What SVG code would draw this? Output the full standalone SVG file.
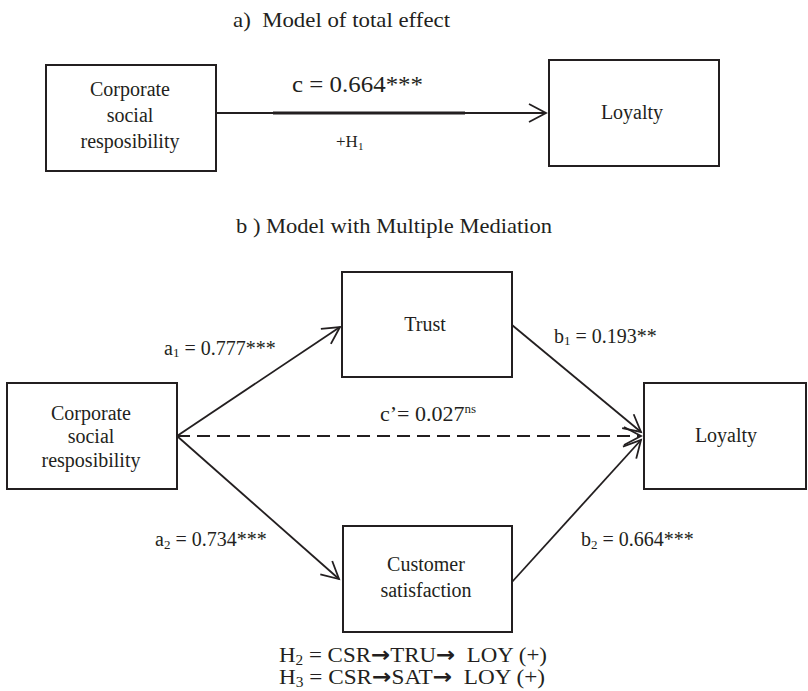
<svg xmlns="http://www.w3.org/2000/svg" width="808" height="691" viewBox="0 0 808 691">
  <style>
    .box { fill: #ffffff; stroke: #231f20; stroke-width: 2; }
    .t { font-family: "Liberation Serif", "Times New Roman", serif; fill: #231f20; }
    .n { font-size: 20px; text-anchor: middle; }
    .lbl { font-size: 20px; }
    .arr { font-family: "DejaVu Sans", sans-serif; font-weight: bold; font-size: 21px; }
    .edge { fill: none; stroke: #231f20; stroke-width: 1.8; }
    .dash { stroke-dasharray: 13 7; }
  </style>
  <defs>
    <marker id="open" markerUnits="userSpaceOnUse" viewBox="-20 -12 24 24" refX="0" refY="0" markerWidth="24" markerHeight="24" orient="auto" overflow="visible">
      <path d="M-17,-9 L0,0 L-17,9" fill="none" stroke="#231f20" stroke-width="1.8"/>
    </marker>
  </defs>

  <rect width="808" height="691" fill="#ffffff"/>

  <!-- Titles -->
  <text class="t" x="233" y="27" font-size="21" textLength="217" lengthAdjust="spacingAndGlyphs" xml:space="preserve">a)  Model of total effect</text>
  <text class="t" x="236" y="233" font-size="21" textLength="316" lengthAdjust="spacingAndGlyphs">b ) Model with Multiple Mediation</text>

  <!-- Connectors -->
  <g id="connectors">
    <line class="edge" x1="216" y1="113" x2="546" y2="113" marker-end="url(#open)"/>
    <line x1="273" y1="113" x2="465" y2="113" stroke="#231f20" stroke-width="3.2"/>
    <line class="edge" x1="177" y1="436" x2="340" y2="327" marker-end="url(#open)"/>
    <line class="edge" x1="512" y1="325" x2="641" y2="432" marker-end="url(#open)"/>
    <line class="edge dash" x1="177" y1="436" x2="641" y2="436" marker-end="url(#open)"/>
    <line class="edge" x1="177" y1="436" x2="339" y2="579" marker-end="url(#open)"/>
    <line class="edge" x1="512" y1="582" x2="641" y2="440" marker-end="url(#open)"/>
  </g>

  <!-- Edge labels -->
  <g id="labels">
    <text class="t" x="292" y="92" font-size="24" textLength="131" lengthAdjust="spacingAndGlyphs">c = 0.664***</text>
    <text class="t" x="336" y="147" font-size="17">+H<tspan font-size="11" dy="3">1</tspan></text>
    <text class="t lbl" x="164" y="355">a<tspan font-size="13" dy="2">1</tspan><tspan dy="-2"> = 0.777***</tspan></text>
    <text class="t lbl" x="554" y="343">b<tspan font-size="13" dy="2">1</tspan><tspan dy="-2"> = 0.193**</tspan></text>
    <text class="t" x="380" y="421" font-size="22">c’= 0.027<tspan font-size="13" dy="-8">ns</tspan></text>
    <text class="t lbl" x="155" y="546">a<tspan font-size="13" dy="3">2</tspan><tspan dy="-3"> = 0.734***</tspan></text>
    <text class="t lbl" x="581" y="546">b<tspan font-size="13" dy="3">2</tspan><tspan dy="-3"> = 0.664***</tspan></text>
    <text class="t" x="279" y="662" font-size="21" textLength="268" lengthAdjust="spacingAndGlyphs">H<tspan font-size="14" dy="3">2</tspan><tspan dy="-3"> = CSR</tspan><tspan class="arr">→</tspan><tspan>TRU</tspan><tspan class="arr">→</tspan><tspan xml:space="preserve">  LOY (+)</tspan></text>
    <text class="t" x="279" y="684" font-size="21" textLength="266" lengthAdjust="spacingAndGlyphs">H<tspan font-size="14" dy="3">3</tspan><tspan dy="-3"> = CSR</tspan><tspan class="arr">→</tspan><tspan>SAT</tspan><tspan class="arr">→</tspan><tspan xml:space="preserve">  LOY (+)</tspan></text>
  </g>

  <!-- Nodes: model a -->
  <g id="csr-a">
    <rect class="box" x="46" y="65" width="170" height="106"/>
    <text class="t n" x="130" y="96">Corporate</text>
    <text class="t n" x="130" y="122">social</text>
    <text class="t n" x="130" y="148">resposibility</text>
  </g>
  <g id="loyalty-a">
    <rect class="box" x="549" y="60" width="170" height="106"/>
    <text class="t n" x="632" y="119">Loyalty</text>
  </g>

  <!-- Nodes: model b -->
  <g id="csr-b">
    <rect class="box" x="7" y="383" width="170" height="106"/>
    <text class="t n" x="91" y="420">Corporate</text>
    <text class="t n" x="91" y="443">social</text>
    <text class="t n" x="91" y="467">resposibility</text>
  </g>
  <g id="trust">
    <rect class="box" x="342" y="272" width="170" height="105"/>
    <text class="t n" x="425" y="331">Trust</text>
  </g>
  <g id="satisfaction">
    <rect class="box" x="343" y="526" width="169" height="106"/>
    <text class="t n" x="426" y="571">Customer</text>
    <text class="t n" x="426" y="597">satisfaction</text>
  </g>
  <g id="loyalty-b">
    <rect class="box" x="644" y="383" width="162" height="106"/>
    <text class="t n" x="726" y="442">Loyalty</text>
  </g>
</svg>
